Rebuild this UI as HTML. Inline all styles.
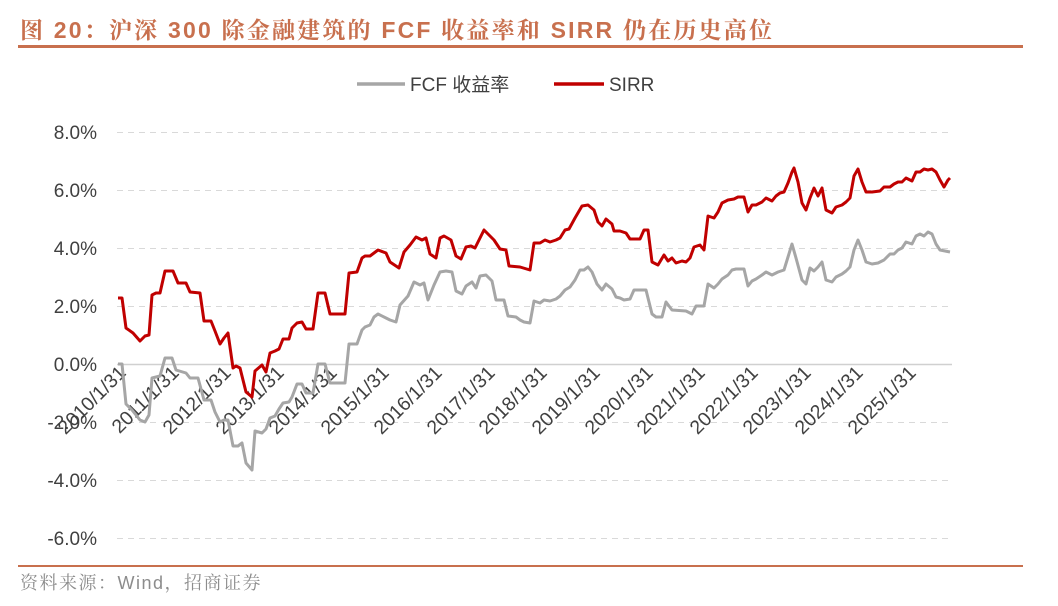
<!DOCTYPE html>
<html><head><meta charset="utf-8"><style>
body{margin:0;background:#fff;width:1058px;height:606px;overflow:hidden}
svg{display:block}
</style></head><body>
<svg width="1058" height="606" xmlns="http://www.w3.org/2000/svg" font-family="Liberation Sans, Noto Sans CJK SC, sans-serif">
<text x="20" y="38" font-size="23" font-weight="bold" fill="#C8704E" letter-spacing="2.2" font-family="Liberation Sans, Noto Serif CJK SC, serif">图 20：沪深 300 除金融建筑的 FCF 收益率和 SIRR 仍在历史高位</text>
<rect x="18" y="45" width="1005" height="3" fill="#C8704E"/>
<g stroke="#d9d9d9" stroke-width="1" stroke-dasharray="6,5">
<line x1="117" x2="952" y1="132.5" y2="132.5"/><line x1="117" x2="952" y1="190.5" y2="190.5"/>
<line x1="117" x2="952" y1="248.5" y2="248.5"/><line x1="117" x2="952" y1="306.5" y2="306.5"/>
<line x1="117" x2="952" y1="422.5" y2="422.5"/><line x1="117" x2="952" y1="480.5" y2="480.5"/>
<line x1="117" x2="952" y1="538.5" y2="538.5"/>
</g>
<line x1="117" x2="952" y1="364.5" y2="364.5" stroke="#d0d0d0" stroke-width="1.5"/>
<g font-size="19" fill="#404040" text-anchor="end">
<text x="97" y="139">8.0%</text><text x="97" y="197">6.0%</text><text x="97" y="255">4.0%</text>
<text x="97" y="313">2.0%</text><text x="97" y="371">0.0%</text><text x="97" y="429">-2.0%</text>
<text x="97" y="487">-4.0%</text><text x="97" y="545">-6.0%</text>
</g>
<g font-size="19.5" fill="#404040" text-anchor="end">
<text transform="translate(127,374) rotate(-45)">2010/1/31</text>
<text transform="translate(180,374) rotate(-45)">2011/1/31</text>
<text transform="translate(232,374) rotate(-45)">2012/1/31</text>
<text transform="translate(285,374) rotate(-45)">2013/1/31</text>
<text transform="translate(338,374) rotate(-45)">2014/1/31</text>
<text transform="translate(390,374) rotate(-45)">2015/1/31</text>
<text transform="translate(443,374) rotate(-45)">2016/1/31</text>
<text transform="translate(496,374) rotate(-45)">2017/1/31</text>
<text transform="translate(548,374) rotate(-45)">2018/1/31</text>
<text transform="translate(601,374) rotate(-45)">2019/1/31</text>
<text transform="translate(654,374) rotate(-45)">2020/1/31</text>
<text transform="translate(706,374) rotate(-45)">2021/1/31</text>
<text transform="translate(759,374) rotate(-45)">2022/1/31</text>
<text transform="translate(812,374) rotate(-45)">2023/1/31</text>
<text transform="translate(864,374) rotate(-45)">2024/1/31</text>
<text transform="translate(917,374) rotate(-45)">2025/1/31</text>
</g>
<polyline fill="none" stroke="#A6A6A6" stroke-width="3" stroke-linejoin="round" points="118,364 122,364 126,404 132,410 140,420 145,422 149,415 152,378 156,377 160,376 165,358 172,358 176,370 186,373 190,378 198,378 204,400 211,400 215,412 220,422 224,420 228,420 233,446 238,446 242,443 246,463 252,470 255,431 262,433 266,429 270,418 275,416 279,409 283,403 289,402 292,397 297,384 302,384 306,393 313,393 318,364 325,364 330,383 345,383 349,344 357,344 362,330 365,327 370,325 374,317 378,314 386,318 390,320 396,322 400,305 408,296 414,282 420,285 424,283 428,300 434,285 440,272 446,271 452,272 456,291 462,294 466,286 472,282 476,288 480,276 486,275 492,281 496,300 504,300 508,316 516,317 520,320 524,322 530,323 534,301 540,303 544,300 550,301 556,299 560,296 565,290 570,287 575,280 580,270 584,270 588,267 592,272 597,284 602,290 606,284 612,289 616,297 620,298 624,300 630,299 634,290 646,290 652,314 656,317 662,317 666,302 672,310 686,311 692,314 696,306 704,306 708,284 714,288 718,284 722,279 728,275 732,270 736,269 744,269 748,286 752,281 756,279 762,275 766,272 772,275 778,272 784,270 788,257 792,244 796,258 802,280 806,284 810,268 814,271 818,267 822,262 826,280 832,282 836,277 842,274 846,271 850,267 854,250 858,240 862,250 866,262 872,264 878,263 884,260 890,254 894,254 898,250 902,248 906,242 912,244 916,236 920,234 924,236 928,232 932,234 936,244 940,250 950,252"/>
<polyline fill="none" stroke="#C00000" stroke-width="3" stroke-linejoin="round" points="118,298 122,298 126,328 133,333 140,341 145,336 149,335 152,295 156,293 160,293 165,271 173,271 178,283 186,283 190,292 200,293 204,321 211,321 215,331 220,344 224,338 228,333 233,368 236,366 240,368 246,392 252,397 255,371 262,365 266,372 270,353 275,351 279,349 283,339 289,339 292,328 297,323 302,322 306,329 313,329 318,293 325,293 330,314 345,314 349,273 357,272 362,258 365,256 370,256 374,253 378,250 386,253 390,262 399,268 404,252 410,245 416,237 422,240 426,238 430,254 436,258 440,238 444,236 451,240 456,256 461,259 466,247 471,246 475,248 480,238 484,230 490,236 494,240 500,249 506,250 509,266 520,267 530,270 534,243 540,243 545,240 550,242 556,240 560,238 565,230 569,229 575,218 582,206 588,205 594,210 598,222 602,226 606,219 612,224 614,231 620,231 626,233 630,239 640,239 644,230 648,230 652,262 658,265 664,255 668,261 672,258 676,263 682,261 686,262 690,258 694,247 700,245 704,250 708,216 714,218 718,212 722,203 728,200 734,199 738,197 744,197 748,212 752,205 756,205 762,202 766,198 772,201 776,196 780,193 784,192 788,183 792,172 794,168 798,182 802,203 806,210 810,198 814,188 818,196 822,188 826,210 832,213 836,207 842,205 846,202 850,198 854,176 858,169 862,182 866,192 872,192 880,191 884,187 890,187 894,184 898,182 902,182 906,178 912,181 916,172 920,172 924,169 928,170 932,169 936,172 940,180 944,187 948,180 950,178"/>
<line x1="357" x2="405" y1="84" y2="84" stroke="#A6A6A6" stroke-width="3.5"/>
<text x="410" y="91" font-size="19" fill="#404040">FCF 收益率</text>
<line x1="554" x2="604" y1="84" y2="84" stroke="#C00000" stroke-width="3.5"/>
<text x="609" y="91" font-size="19" fill="#404040">SIRR</text>
<rect x="18" y="565" width="1005" height="2" fill="#C8704E"/>
<text x="20" y="589" font-size="18" fill="#8c8c8c" letter-spacing="1.5" font-family="Liberation Sans, Noto Serif CJK SC, serif">资料来源：Wind，招商证券</text>
</svg>
</body></html>
